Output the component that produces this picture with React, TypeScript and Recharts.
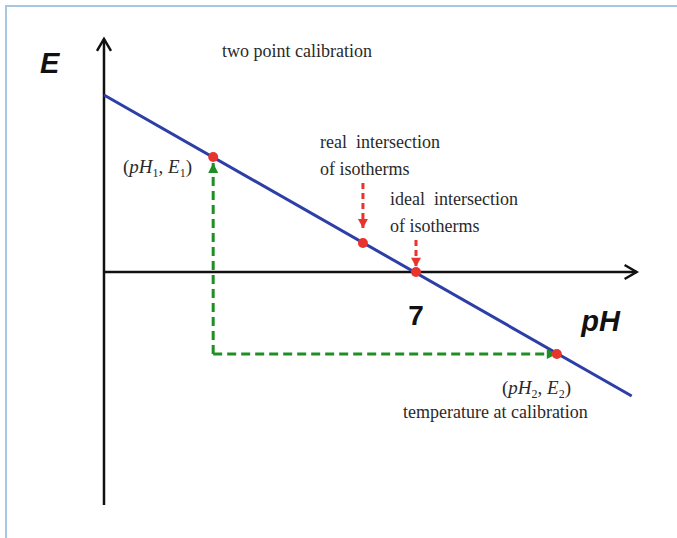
import React from 'react';
import { ComposedChart, Line, Scatter, XAxis, YAxis } from 'recharts';

// pH / E (mV) values
const calibrationLine = [
  { ph: 0, e: 414 },
  { ph: 11.84, e: -290 },
];
const yAxisLine = [
  { ph: 0, e: -545 },
  { ph: 0, e: 545 },
];
const xAxisLine = [
  { ph: 0, e: 0 },
  { ph: 11.95, e: 0 },
];
const upArrow = [
  { ph: 2.45, e: -192 },
  { ph: 2.45, e: 255 },
];
const rightArrow = [
  { ph: 2.45, e: -192 },
  { ph: 10.16, e: -192 },
];
const realArrow = [
  { ph: 5.81, e: 208 },
  { ph: 5.81, e: 103 },
];
const idealArrow = [
  { ph: 7, e: 75 },
  { ph: 7, e: 12 },
];
const markedPoints = [
  { ph: 2.45, e: 269 },
  { ph: 5.81, e: 68 },
  { ph: 7, e: 0 },
  { ph: 10.16, e: -192 },
];

// text and where it sits (baseline start, in pH / mV)
const notes = [
  { id: 'E', ph: -1.436, e: 465, text: 'E' },
  { id: 'title', ph: 2.647, e: 503, text: 'two point calibration' },
  { id: 'serif', ph: 4.846, e: 290, text: 'real  intersection' },
  { id: 'serif', ph: 4.846, e: 227, text: 'of isotherms' },
  { id: 'serif', ph: 6.417, e: 157, text: 'ideal  intersection' },
  { id: 'serif', ph: 6.417, e: 93, text: 'of isotherms' },
  { id: 'pt1', ph: 0.426, e: 232, text: '1' },
  { id: 'seven', ph: 7, e: -124, text: '7' },
  { id: 'pH', ph: 10.71, e: -138, text: 'pH' },
  { id: 'pt2', ph: 8.93, e: -285, text: '2' },
  { id: 'serif', ph: 6.708, e: -342, text: 'temperature at calibration' },
];

const PH_DOMAIN: [number, number] = [-2.333, 12.856];
const E_DOMAIN: [number, number] = [-622.2, 636.2];

const SERIF = '"Liberation Serif", "Times New Roman", serif';
const SANS = '"Liberation Sans", Arial, sans-serif';

const arrowHead = (dir: 'up' | 'down' | 'right', color: string, open = false) => (p: any) => {
  const { cx, cy, index } = p;
  if (index !== 1 || cx == null) return <g key={`h${index}`} />;
  let pts = '';
  if (open) {
    pts = `${cx - 7},${cy + 12} ${cx},${cy} ${cx + 7},${cy + 12}`;
    if (dir === 'right') pts = `${cx - 12},${cy - 7} ${cx},${cy} ${cx - 12},${cy + 7}`;
    return (
      <polyline key={`h${index}`} points={pts} fill="none" stroke={color} strokeWidth={2.5} />
    );
  }
  if (dir === 'up') pts = `${cx},${cy} ${cx - 5},${cy + 10} ${cx + 5},${cy + 10}`;
  if (dir === 'down') pts = `${cx},${cy} ${cx - 5},${cy - 9} ${cx + 5},${cy - 9}`;
  if (dir === 'right') pts = `${cx},${cy} ${cx - 10},${cy - 5} ${cx - 10},${cy + 5}`;
  return <polygon key={`h${index}`} points={pts} fill={color} />;
};

const PointLabel = ({ x, y, n }: { x: number; y: number; n: string }) => (
  <text x={x} y={y} fontFamily={SERIF} fontSize={19} fill="#2a2a2a">
    <tspan>(</tspan>
    <tspan fontStyle="italic">pH</tspan>
    <tspan fontSize={12} dy={4}>{n}</tspan>
    <tspan dy={-4}>, </tspan>
    <tspan fontStyle="italic">E</tspan>
    <tspan fontSize={12} dy={4}>{n}</tspan>
    <tspan dy={-4}>)</tspan>
  </text>
);

const NoteShape = (p: any) => {
  const { cx, cy, payload } = p;
  const n = payload;
  if (n.id === 'pt1' || n.id === 'pt2') return <PointLabel x={cx} y={cy} n={n.text} />;
  if (n.id === 'E' || n.id === 'pH')
    return (
      <text x={cx} y={cy} fontFamily={SANS} fontSize={29} fontWeight="bold" fontStyle="italic" fill="#111">
        {n.text}
      </text>
    );
  if (n.id === 'seven')
    return (
      <text x={cx} y={cy} textAnchor="middle" fontFamily={SANS} fontSize={28} fontWeight="bold" fill="#111">
        {n.text}
      </text>
    );
  return (
    <text x={cx} y={cy} fontFamily={SERIF} fontSize={18} fill="#2a2a2a" style={{ whiteSpace: 'pre' }}>
      {n.text}
    </text>
  );
};

const DotShape = (p: any) => <circle cx={p.cx} cy={p.cy} r={5} fill="#e8342c" />;

export default function App() {
  return (
    <div style={{ position: 'absolute', left: 0, top: 0, width: 677, height: 538, background: '#fff' }}>
      <div
        style={{
          position: 'absolute',
          left: 5,
          top: 5,
          right: 0,
          bottom: 0,
          borderTop: '2px solid #a9c5e4',
          borderLeft: '2px solid #a9c5e4',
        }}
      />
      <div style={{ position: 'absolute', left: 0, top: 0 }}>
        <ComposedChart width={677} height={538} margin={{ top: 0, right: 0, bottom: 0, left: 0 }}>
          <XAxis dataKey="ph" type="number" domain={PH_DOMAIN} allowDataOverflow hide />
          <YAxis dataKey="e" type="number" domain={E_DOMAIN} allowDataOverflow hide />
          <Line data={yAxisLine} dataKey="e" stroke="#111" strokeWidth={2.5} dot={arrowHead('up', '#111', true)} activeDot={false} isAnimationActive={false} />
          <Line data={xAxisLine} dataKey="e" stroke="#111" strokeWidth={2.5} dot={arrowHead('right', '#111', true)} activeDot={false} isAnimationActive={false} />
          <Line data={upArrow} dataKey="e" stroke="#1f8f24" strokeWidth={3} strokeDasharray="9 5" dot={arrowHead('up', '#1f8f24')} activeDot={false} isAnimationActive={false} />
          <Line data={rightArrow} dataKey="e" stroke="#1f8f24" strokeWidth={3} strokeDasharray="9 5" dot={arrowHead('right', '#1f8f24')} activeDot={false} isAnimationActive={false} />
          <Line data={realArrow} dataKey="e" stroke="#e8342c" strokeWidth={3} strokeDasharray="6 4" dot={arrowHead('down', '#e8342c')} activeDot={false} isAnimationActive={false} />
          <Line data={idealArrow} dataKey="e" stroke="#e8342c" strokeWidth={3} strokeDasharray="6 4" dot={arrowHead('down', '#e8342c')} activeDot={false} isAnimationActive={false} />
          <Line data={calibrationLine} dataKey="e" stroke="#2d3ea6" strokeWidth={3} dot={false} activeDot={false} isAnimationActive={false} />
          <Scatter data={markedPoints} dataKey="e" shape={DotShape} isAnimationActive={false} />
          <Scatter data={notes} dataKey="e" shape={NoteShape} isAnimationActive={false} />
        </ComposedChart>
      </div>
    </div>
  );
}
